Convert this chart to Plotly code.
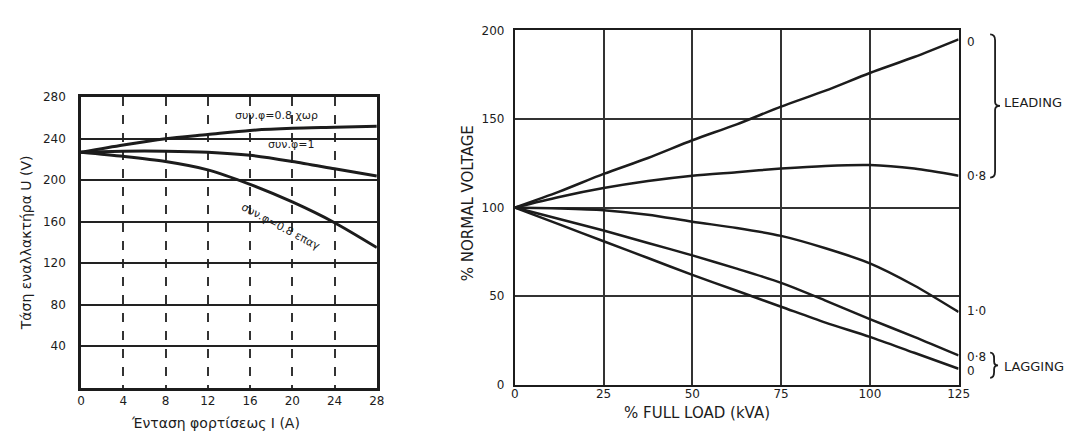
import plotly.graph_objects as go

# ---------------- data ----------------
# Left chart: alternator voltage vs load current
left_current = [0, 4, 8, 12, 16, 20, 24, 28]
u_lead_08 = [227, 234, 240, 244, 248, 250, 251, 252]
u_unity = [227, 228, 228, 227, 224, 218, 211, 204]
u_lag_08 = [227, 223, 218, 210, 196, 179, 159, 135]
left_xticks = [0, 4, 8, 12, 16, 20, 24, 28]
left_yticks = [40, 80, 120, 160, 200, 240, 280]

# Right chart: % normal voltage vs % full load
right_load = [0, 12.5, 25, 37.5, 50, 62.5, 75, 87.5, 100, 112.5, 125]
v_lead_0 = [100, 109, 119, 128, 138, 147, 157, 166, 176, 185, 195]
v_lead_08 = [100, 106, 111, 115, 118, 120, 122, 123.5, 124, 122, 118]
v_unity = [100, 99.5, 98.5, 96, 92, 88.5, 84, 77, 68.5, 56, 41]
v_lag_08 = [100, 93.5, 87, 80, 73, 65.5, 57.5, 47.5, 37, 27, 16.5]
v_lag_0 = [100, 90.5, 81, 71.5, 62, 53, 44, 35, 27, 18, 9]
right_xticks = [0, 25, 50, 75, 100, 125]
right_yticks = [0, 50, 100, 150, 200]

W, H = 1074, 433
FONT = "DejaVu Sans"
INK = "#1c1c1c"


def px(x):
    return x / W


def py(y):
    return 1 - y / H


fig = go.Figure()

line_l = dict(color=INK, width=3, shape="spline", smoothing=0.8)
for ys in (u_lead_08, u_unity, u_lag_08):
    fig.add_trace(go.Scatter(x=left_current, y=ys, mode="lines", line=line_l,
                             xaxis="x", yaxis="y", showlegend=False, hoverinfo="skip"))

line_r = dict(color=INK, width=2.5, shape="spline", smoothing=0.8)
for ys in (v_lead_0, v_lead_08, v_unity, v_lag_08, v_lag_0):
    fig.add_trace(go.Scatter(x=right_load, y=ys, mode="lines", line=line_r,
                             xaxis="x2", yaxis="y2", showlegend=False, hoverinfo="skip"))

tickfont = dict(family=FONT, size=12, color=INK)

fig.update_layout(
    width=W, height=H,
    margin=dict(l=0, r=0, t=0, b=0),
    paper_bgcolor="white", plot_bgcolor="white",
    xaxis=dict(domain=[px(70), px(370)], range=[0, 28], tickvals=left_xticks,
               showgrid=True, gridcolor="#333", gridwidth=1.5, griddash="dash",
               showline=True, linecolor=INK, linewidth=2.5, mirror=True,
               ticks="", tickfont=tickfont, zeroline=False, anchor="y"),
    yaxis=dict(domain=[py(385), py(85)], range=[0, 280], tickvals=left_yticks,
               showgrid=True, gridcolor="#222", gridwidth=2,
               showline=True, linecolor=INK, linewidth=2.5, mirror=True,
               ticks="", tickfont=tickfont, zeroline=False, anchor="x",
               ticklabelstandoff=10),
    xaxis2=dict(domain=[px(510), px(960)], range=[0, 125], tickvals=right_xticks,
                showgrid=True, gridcolor="#333", gridwidth=1.5,
                showline=True, linecolor=INK, linewidth=2, mirror=True,
                ticks="", tickfont=tickfont, zeroline=False, anchor="y2",
                ticklabelstandoff=-3),
    yaxis2=dict(domain=[py(382), py(16)], range=[0, 200], tickvals=right_yticks,
                showgrid=True, gridcolor="#333", gridwidth=1.5,
                showline=True, linecolor=INK, linewidth=2, mirror=True,
                ticks="", tickfont=tickfont, zeroline=False, anchor="x2",
                ticklabelstandoff=6),
)

ann = []


def note(text, x, y, size=12, angle=0, xanchor="center"):
    ann.append(dict(text=text, x=px(x), y=py(y), xref="paper", yref="paper",
                    xanchor=xanchor, yanchor="middle", textangle=angle,
                    showarrow=False, font=dict(family=FONT, size=size, color=INK)))


# axis titles
note("Τάση εναλλακτήρα U (V)", 15, 235, size=14, angle=-90)
note("Ένταση φορτίσεως I (A)", 206, 422, size=14)
note("% NORMAL VOLTAGE", 462, 195, size=15, angle=-90)
note("% FULL LOAD (kVA)", 695, 411, size=15)

# left curve labels
note("συν.φ=0.8 χωρ", 268, 104, size=11)
note("συν.φ=1", 283, 134, size=11)
note("συν.φ=0.8 επαγ", 272, 219, size=11, angle=28)

# right curve labels
for txt, yy in (("0", 28), ("0·8", 166), ("1·0", 306), ("0·8", 353), ("0", 368)):
    note(txt, 966, yy, size=12, xanchor="left")
note("LEADING", 1004, 90, size=13, xanchor="left")
note("LAGGING", 1004, 363, size=13, xanchor="left")
fig.update_layout(annotations=ann)


def brace(x, y0, y1, w=5):
    ym = (y0 + y1) / 2
    pts = [
        f"M {px(x)} {py(y0)}",
        f"Q {px(x + w)} {py(y0)} {px(x + w)} {py(y0 + 6)}",
        f"L {px(x + w)} {py(ym - 4)}",
        f"Q {px(x + w)} {py(ym)} {px(x + 2 * w)} {py(ym)}",
        f"Q {px(x + w)} {py(ym)} {px(x + w)} {py(ym + 4)}",
        f"L {px(x + w)} {py(y1 - 6)}",
        f"Q {px(x + w)} {py(y1)} {px(x)} {py(y1)}",
    ]
    return " ".join(pts)


fig.add_shape(type="path", xref="paper", yref="paper", path=brace(992, 20, 168),
              line=dict(color=INK, width=1.8))
fig.add_shape(type="path", xref="paper", yref="paper", path=brace(992, 349, 375, w=4),
              line=dict(color=INK, width=1.8))

fig.write_html("out.html")
